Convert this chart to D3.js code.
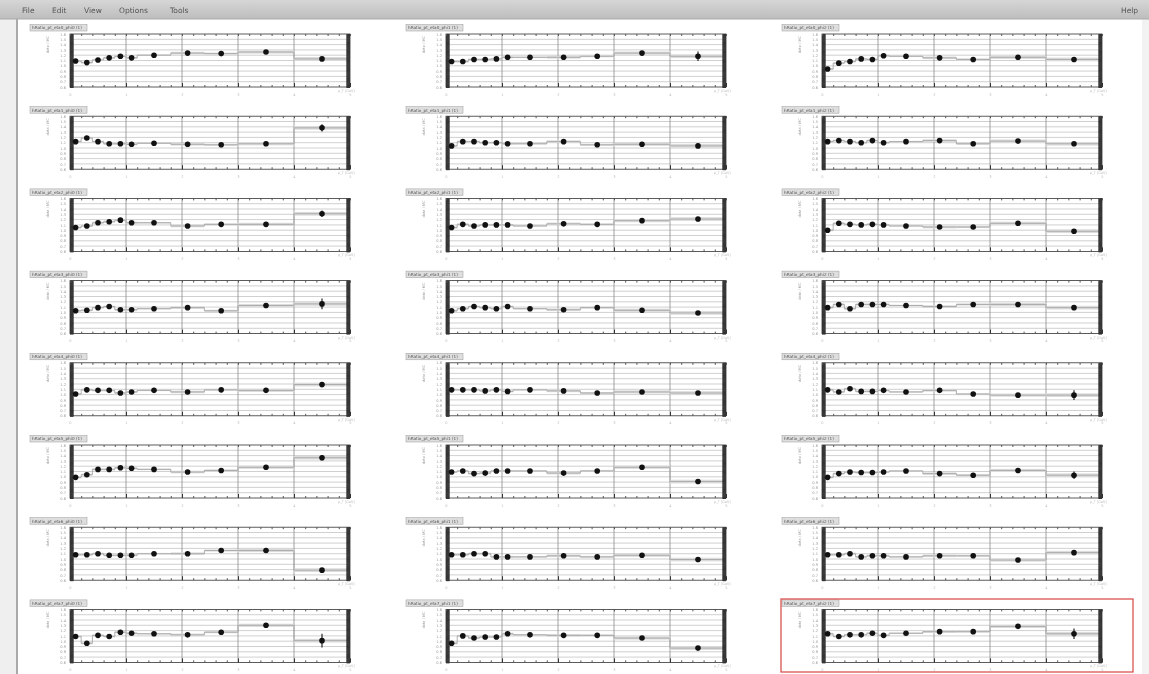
<html>
<head>
<script src="https://d3js.org/d3.v7.min.js"></script>
<style>
body { margin: 0; padding: 0; background: #fff; }
svg { display: block; filter: blur(0.45px); }
text { font-family: "DejaVu Sans", sans-serif; }
</style>
</head>
<body>
<script>

// bin edges of the ratio histograms (x axis, 0..5)
var binEdges = [0, 0.2, 0.4, 0.6, 0.8, 1.0, 1.2, 1.8, 2.4, 3.0, 4.0, 5.0];
var yTicks = [0.6, 0.7, 0.8, 0.9, 1.0, 1.1, 1.2, 1.3, 1.4, 1.5, 1.6];
var xTicks = [0, 1, 2, 3, 4, 5];
var menuItems = ["File", "Edit", "View", "Options", "Tools"];

// one array per pad, read row by row (3 pads per row)
var ratios = [
  [1.09, 1.06, 1.11, 1.15, 1.18, 1.15, 1.20, 1.24, 1.23, 1.26, 1.13],
  [1.08, 1.08, 1.12, 1.12, 1.13, 1.16, 1.16, 1.16, 1.18, 1.24, 1.18],
  [0.94, 1.05, 1.08, 1.13, 1.12, 1.19, 1.18, 1.15, 1.12, 1.16, 1.12],
  [1.12, 1.19, 1.12, 1.08, 1.08, 1.07, 1.09, 1.07, 1.06, 1.08, 1.38],
  [1.04, 1.12, 1.12, 1.10, 1.10, 1.08, 1.08, 1.12, 1.06, 1.07, 1.04],
  [1.12, 1.14, 1.12, 1.10, 1.14, 1.10, 1.12, 1.14, 1.08, 1.13, 1.08],
  [1.05, 1.08, 1.14, 1.16, 1.19, 1.14, 1.14, 1.08, 1.11, 1.11, 1.31],
  [1.05, 1.11, 1.08, 1.10, 1.10, 1.10, 1.08, 1.12, 1.11, 1.18, 1.21],
  [1.00, 1.13, 1.11, 1.10, 1.11, 1.10, 1.08, 1.06, 1.06, 1.13, 0.98],
  [1.03, 1.04, 1.09, 1.11, 1.05, 1.05, 1.07, 1.09, 1.03, 1.13, 1.16],
  [1.03, 1.07, 1.11, 1.09, 1.07, 1.11, 1.07, 1.05, 1.09, 1.04, 0.99],
  [1.09, 1.15, 1.07, 1.15, 1.15, 1.15, 1.13, 1.11, 1.15, 1.15, 1.09],
  [1.01, 1.09, 1.08, 1.08, 1.03, 1.05, 1.08, 1.05, 1.09, 1.08, 1.19],
  [1.09, 1.09, 1.09, 1.07, 1.09, 1.06, 1.09, 1.07, 1.03, 1.05, 1.03],
  [1.09, 1.05, 1.11, 1.06, 1.06, 1.08, 1.05, 1.08, 1.01, 0.99, 0.99],
  [0.99, 1.04, 1.14, 1.14, 1.17, 1.16, 1.14, 1.09, 1.12, 1.18, 1.36],
  [1.09, 1.11, 1.06, 1.07, 1.11, 1.11, 1.11, 1.07, 1.11, 1.18, 0.91],
  [0.99, 1.06, 1.09, 1.08, 1.08, 1.09, 1.11, 1.06, 1.03, 1.12, 1.03],
  [1.08, 1.08, 1.10, 1.07, 1.07, 1.07, 1.10, 1.10, 1.16, 1.16, 0.79],
  [1.08, 1.08, 1.10, 1.10, 1.04, 1.04, 1.04, 1.06, 1.04, 1.07, 0.99],
  [1.08, 1.08, 1.10, 1.04, 1.06, 1.06, 1.04, 1.06, 1.06, 0.98, 1.12],
  [1.09, 0.96, 1.11, 1.09, 1.17, 1.15, 1.14, 1.12, 1.17, 1.30, 1.01],
  [0.96, 1.10, 1.06, 1.08, 1.08, 1.14, 1.12, 1.11, 1.11, 1.06, 0.87],
  [1.14, 1.09, 1.12, 1.12, 1.15, 1.11, 1.15, 1.18, 1.18, 1.28, 1.14]
];
// statistical error of the first ten bins (same for all pads)
var statErr = [0.012, 0.012, 0.012, 0.012, 0.012, 0.012, 0.015, 0.018, 0.02, 0.025];
// statistical error of the last bin, per pad
var lastErr = [0.03, 0.09, 0.04, 0.07, 0.04, 0.03, 0.06, 0.04, 0.03, 0.10, 0.03, 0.04,
               0.05, 0.03, 0.09, 0.05, 0.03, 0.07, 0.03, 0.04, 0.04, 0.13, 0.03, 0.10];
var sysErr = [0.02, 0.02, 0.02, 0.02, 0.02, 0.02, 0.015, 0.025, 0.02, 0.03, 0.035];

var width = 1149, height = 674;
var frameW = 280, frameH = 53;
var colX = [70, 446, 822];
var rowY0 = 34, rowStep = 82.2;

var svg = d3.select("body").append("svg")
    .attr("width", width)
    .attr("height", height);

// window chrome
svg.append("rect").attr("width", width).attr("height", height).attr("fill", "#fff");
svg.append("rect").attr("x", 0).attr("y", 0).attr("width", 16).attr("height", height).attr("fill", "#efefef");
svg.append("rect").attr("x", 1142).attr("y", 0).attr("width", 7).attr("height", height).attr("fill", "#f2f2f2");
svg.append("line").attr("x1", 17).attr("x2", 17).attr("y1", 19).attr("y2", height)
    .attr("stroke", "#555").attr("stroke-width", 1);

var grad = svg.append("defs").append("linearGradient").attr("id", "menu")
    .attr("x1", 0).attr("x2", 0).attr("y1", 0).attr("y2", 1);
grad.append("stop").attr("offset", "0%").attr("stop-color", "#d6d6d6");
grad.append("stop").attr("offset", "100%").attr("stop-color", "#bdbdbd");
svg.append("rect").attr("width", width).attr("height", 19).attr("fill", "url(#menu)");
svg.append("line").attr("x1", 0).attr("x2", width).attr("y1", 19).attr("y2", 19)
    .attr("stroke", "#aaa");

var menuX = [22, 52, 84, 119, 170];
svg.selectAll(".menu").data(menuItems).enter().append("text")
    .attr("class", "menu")
    .attr("x", function(d, i) { return menuX[i]; })
    .attr("y", 13)
    .attr("font-size", 7.5)
    .attr("fill", "#555")
    .text(function(d) { return d; });
svg.append("text").attr("x", 1121).attr("y", 13).attr("font-size", 7.5).attr("fill", "#555").text("Help");

var x = d3.scaleLinear().domain([0, 5]).range([0, frameW]);
var y = d3.scaleLinear().domain([0.6, 1.6]).range([frameH, 0]);

ratios.forEach(function(vals, p) {
  var row = Math.floor(p / 3), col = p % 3;
  var g = svg.append("g")
      .attr("transform", "translate(" + colX[col] + "," + (rowY0 + row * rowStep) + ")");

  var bins = vals.map(function(v, i) {
    return {x0: binEdges[i], x1: binEdges[i + 1], v: v,
            e: i < 10 ? statErr[i] : lastErr[p], s: sysErr[i]};
  });

  // grid
  g.selectAll(".hg").data(yTicks.slice(1, -1)).enter().append("line")
      .attr("x1", 0).attr("x2", frameW)
      .attr("y1", function(d) { return y(d); }).attr("y2", function(d) { return y(d); })
      .attr("stroke", "#c4c4c4").attr("stroke-width", 0.8);
  g.selectAll(".vg").data(xTicks.slice(1, -1)).enter().append("line")
      .attr("x1", function(d) { return x(d); }).attr("x2", function(d) { return x(d); })
      .attr("y1", 0).attr("y2", frameH)
      .attr("stroke", "#8a8a8a").attr("stroke-width", 0.8);

  // systematic band
  g.selectAll(".band").data(bins).enter().append("rect")
      .attr("x", function(d) { return x(d.x0); })
      .attr("width", function(d) { return x(d.x1) - x(d.x0); })
      .attr("y", function(d) { return y(d.v + d.s); })
      .attr("height", function(d) { return y(d.v - d.s) - y(d.v + d.s); })
      .attr("fill", "#dcdcdc");

  // histogram step line
  var pts = bins.map(function(d) { return [d.x0, d.v]; });
  pts.push([5, bins[bins.length - 1].v]);
  g.append("path")
      .attr("d", d3.line().curve(d3.curveStepAfter)
        .x(function(d) { return x(d[0]); })
        .y(function(d) { return y(d[1]); })(pts))
      .attr("fill", "none").attr("stroke", "#a0a0a0").attr("stroke-width", 0.8);

  // frame + axes
  g.append("rect").attr("width", frameW).attr("height", frameH)
      .attr("fill", "none").attr("stroke", "#333").attr("stroke-width", 0.8);

  var fine = d3.range(0.6, 1.6001, 0.01);
  g.append("g").call(d3.axisLeft(y).tickValues(fine).tickSize(-3.5).tickFormat(""))
      .call(function(a) { a.select(".domain").remove(); a.selectAll("line").attr("stroke", "#333"); });
  g.append("g").attr("transform", "translate(" + frameW + ",0)")
      .call(d3.axisRight(y).tickValues(fine).tickSize(-3.5).tickFormat(""))
      .call(function(a) { a.select(".domain").remove(); a.selectAll("line").attr("stroke", "#333"); });

  g.append("g").call(d3.axisLeft(y).tickValues(yTicks).tickSize(0).tickPadding(4)
        .tickFormat(d3.format(".1f")))
      .call(function(a) {
        a.select(".domain").remove();
        a.selectAll("text").attr("font-size", 3.6).attr("fill", "#999").attr("font-family", "DejaVu Sans");
      });

  var xMinor = d3.range(0, 5.001, 0.2);
  g.append("g").attr("transform", "translate(0," + frameH + ")")
      .call(d3.axisBottom(x).tickValues(xMinor).tickSize(-2).tickFormat(""))
      .call(function(a) { a.select(".domain").remove(); a.selectAll("line").attr("stroke", "#555"); });
  g.append("g").call(d3.axisTop(x).tickValues(xMinor).tickSize(-2).tickFormat(""))
      .call(function(a) { a.select(".domain").remove(); a.selectAll("line").attr("stroke", "#555"); });
  g.append("g").attr("transform", "translate(0," + frameH + ")")
      .call(d3.axisBottom(x).tickValues(xTicks).tickSize(-4).tickPadding(6).tickFormat(d3.format("d")))
      .call(function(a) {
        a.select(".domain").remove();
        a.selectAll("line").attr("stroke", "#333");
        a.selectAll("text").attr("font-size", 3.6).attr("fill", "#bbb").attr("font-family", "DejaVu Sans");
      });

  // stat errors and markers
  g.selectAll(".err").data(bins).enter().append("line")
      .attr("x1", function(d) { return x((d.x0 + d.x1) / 2); })
      .attr("x2", function(d) { return x((d.x0 + d.x1) / 2); })
      .attr("y1", function(d) { return y(d.v - d.e); })
      .attr("y2", function(d) { return y(d.v + d.e); })
      .attr("stroke", "#111").attr("stroke-width", 1.1);
  g.selectAll(".pt").data(bins).enter().append("circle")
      .attr("cx", function(d) { return x((d.x0 + d.x1) / 2); })
      .attr("cy", function(d) { return y(d.v); })
      .attr("r", 2.8)
      .attr("fill", "#111");

  // pad title box and axis titles
  g.append("rect").attr("x", -40).attr("y", -9.5).attr("width", 57).attr("height", 6.5)
      .attr("fill", "#dedede").attr("stroke", "#999").attr("stroke-width", 0.5);
  g.append("text").attr("x", -38).attr("y", -4.6).attr("font-size", 4.2).attr("fill", "#555")
      .text("hRatio_pt_eta" + row + "_phi" + col + " (1)");
  g.append("text").attr("transform", "translate(-21,2) rotate(-90)")
      .attr("text-anchor", "end").attr("font-size", 3.6).attr("fill", "#999")
      .text("data / MC");
  g.append("text").attr("x", frameW - 12).attr("y", frameH + 5).attr("font-size", 3.4)
      .attr("fill", "#bbb").text("p_T [GeV]");
});

// selected pad
svg.append("rect").attr("x", 781).attr("y", 599).attr("width", 352).attr("height", 73)
    .attr("fill", "none").attr("stroke", "#d9534f").attr("stroke-width", 1.3);

</script>
</body>
</html>
